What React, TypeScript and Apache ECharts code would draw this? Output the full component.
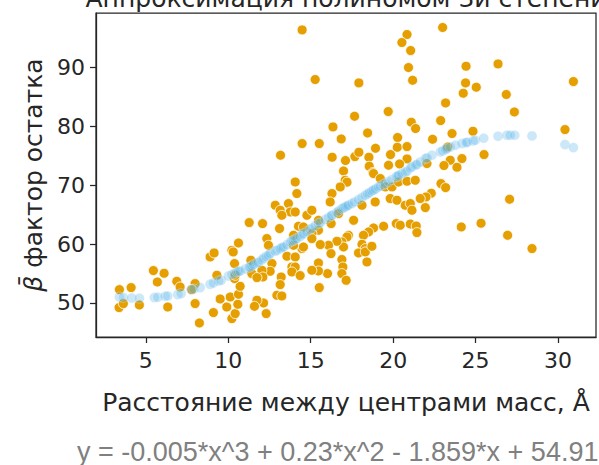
import React, { useEffect, useRef } from "react";
import * as echarts from "echarts";

const titleText = "Аппроксимация полиномом 3й степени";
const xAxisTitle = "Расстояние между центрами масс, Å";
const yAxisTitle = "{i|β̄} фактор остатка";
const equationText = "y = -0.005*x^3 + 0.23*x^2 - 1.859*x + 54.91";

const xTicks = [5, 10, 15, 20, 25, 30];
const yTicks = [50, 60, 70, 80, 90];

// observed points [distance, factor]
const observed: number[][] = [
  [14.48, 96.33], [15.27, 87.91], [17.92, 87.34], [20.84, 95.55], [20.53, 94.19], [21.06, 92.83],
  [20.93, 89.95], [21.18, 87.79], [19.7, 82.48], [17.66, 81.68], [21.1, 80.67], [21.36, 79.6],
  [16.35, 79.87], [18.45, 78.85], [16.85, 77.83], [20.27, 78.07], [14.48, 77.05], [15.52, 77.05],
  [13.17, 75.07], [18.93, 76.25], [20.25, 76.42], [20.84, 76.54], [16.3, 74.73], [17.11, 74.17],
  [17.68, 74.84], [17.92, 75.57], [18.53, 74.73], [19.84, 75.18], [20.84, 74.44], [18.55, 73.2],
  [19.72, 73.37], [20.39, 73.59], [16.99, 72.4], [18.77, 72.13], [22.05, 73.66], [22.39, 77.78],
  [23.0, 96.74], [24.42, 90.17], [26.36, 90.56], [30.93, 87.57], [24.39, 87.34], [25.04, 86.61],
  [24.25, 85.59], [26.86, 85.37], [23.18, 83.94], [27.35, 82.41], [22.88, 80.95], [30.42, 79.42],
  [23.57, 78.75], [24.84, 79.14], [25.51, 75.18], [23.3, 76.47], [23.46, 74.22], [24.17, 74.5],
  [23.87, 73.03], [23.08, 73.32],
  [22.9, 70.26], [23.18, 69.58], [22.31, 68.62], [21.99, 67.99], [21.95, 66.19], [27.06, 67.6],
  [24.13, 62.9], [25.33, 63.53], [26.94, 61.49], [28.42, 59.23],
  [17.09, 70.82], [17.2, 70.5], [16.79, 69.69], [16.29, 68.57], [16.18, 67.14], [14.06, 70.53],
  [14.16, 68.57], [12.85, 66.58], [13.65, 66.87], [13.15, 65.73], [13.76, 65.44], [14.06, 65.44],
  [13.25, 64.88], [14.77, 64.88], [15.07, 65.73], [12.08, 63.47], [13.11, 62.63], [14.26, 63.02],
  [14.56, 62.9], [15.47, 64.03], [15.47, 62.34], [15.07, 61.78], [15.07, 60.93], [16.24, 63.47],
  [16.69, 65.17], [17.6, 64.03], [18.11, 66.58], [18.81, 71.96], [19.22, 71.11], [19.52, 69.69],
  [19.93, 69.69], [18.91, 67.14], [19.82, 67.72], [20.23, 67.43], [20.33, 70.53], [20.84, 70.66],
  [21.34, 70.82], [20.73, 66.58], [21.04, 66.87], [21.14, 65.73], [21.64, 67.72], [20.19, 63.47],
  [20.43, 63.19], [21.04, 63.4], [21.4, 63.06], [21.44, 61.94], [19.42, 63.02], [18.81, 62.73],
  [18.51, 62.05], [18.2, 61.49], [18.11, 59.96], [18.31, 59.23], [17.9, 58.49], [18.31, 58.66],
  [18.71, 59.62], [18.41, 56.96], [17.29, 61.49], [17.2, 61.2], [16.89, 60.35], [16.99, 59.5],
  [16.59, 60.47], [16.08, 59.79], [16.23, 58.38], [16.89, 57.37], [16.95, 56.11], [16.89, 54.99],
  [17.15, 53.85], [16.02, 54.99], [15.47, 56.79], [15.47, 55.43], [15.07, 55.55], [15.52, 52.61],
  [15.58, 59.91], [14.47, 59.23], [14.56, 59.5], [13.96, 59.79], [13.56, 57.93], [14.06, 57.81],
  [13.86, 56.11], [14.06, 56.11], [13.86, 55.26], [14.36, 54.65], [12.65, 56.69], [12.54, 55.38],
  [12.04, 55.55], [12.1, 54.41], [13.21, 54.41], [13.15, 53.12], [12.95, 51.31], [13.25, 51.19],
  [12.14, 50.0], [12.3, 48.2], [12.34, 60.93], [12.44, 59.79], [13.96, 61.49],
  [3.4, 52.27], [4.11, 52.61], [3.38, 49.22], [3.64, 49.9], [4.61, 49.66], [5.46, 55.5],
  [6.11, 55.04], [5.7, 53.56], [6.88, 53.68], [7.08, 52.72], [6.33, 49.32], [7.99, 53.29],
  [7.79, 52.27], [7.99, 49.9], [8.25, 46.61], [9.1, 48.37], [9.51, 50.68], [9.91, 49.32],
  [10.12, 51.02], [10.22, 47.35], [10.42, 48.2], [10.58, 49.78], [10.62, 51.48], [10.72, 52.83],
  [10.38, 54.14], [10.42, 54.7], [9.31, 54.7], [8.9, 57.81], [9.14, 58.49], [10.22, 58.94],
  [10.3, 58.66], [10.62, 60.18], [10.38, 56.69], [11.27, 63.64], [11.37, 57.25], [11.43, 54.99],
  [11.74, 54.31], [11.74, 50.46], [11.59, 49.44],
];

// fitted points [distance, fitted factor]
const fitted: number[][] = [
  [3.4, 51.02], [3.64, 50.92], [4.15, 50.85], [4.61, 50.8], [5.52, 50.92], [5.73, 50.97],
  [6.17, 51.14], [6.33, 51.19], [6.94, 51.43], [7.14, 51.6], [7.75, 52.27], [7.91, 52.38],
  [8.3, 52.61], [8.9, 53.17], [9.1, 53.39], [9.4, 53.73], [9.57, 53.85], [10.01, 54.58],
  [10.22, 54.82], [10.38, 55.0], [10.52, 55.26], [10.62, 55.35], [10.72, 55.43], [11.03, 55.77],
  [11.27, 56.05], [11.33, 56.11], [11.43, 56.3], [11.53, 56.52], [11.74, 56.8], [11.83, 56.91],
  [12.04, 57.3], [12.14, 57.6], [12.3, 57.9], [12.44, 58.1], [12.54, 58.38], [12.85, 58.8],
  [12.95, 58.94], [13.15, 59.2], [13.25, 59.4], [13.35, 59.5], [13.56, 59.9], [13.76, 60.35],
  [13.86, 60.5], [13.96, 60.6], [14.06, 60.8], [14.16, 60.93], [14.36, 61.3], [14.48, 61.6],
  [14.56, 61.78], [14.77, 62.1], [14.97, 62.46], [15.07, 62.7], [15.27, 63.1], [15.47, 63.47],
  [15.58, 63.6], [15.88, 64.15], [16.08, 64.5], [16.24, 64.8], [16.29, 64.88], [16.59, 65.4],
  [16.69, 65.61], [16.89, 66.0], [16.99, 66.15], [17.09, 66.29], [17.2, 66.45], [17.29, 66.6],
  [17.5, 66.87], [17.66, 67.15], [17.9, 67.55], [18.11, 67.9], [18.31, 68.28], [18.45, 68.5],
  [18.55, 68.7], [18.71, 69.0], [18.81, 69.15], [18.93, 69.35], [19.11, 69.69], [19.22, 69.85],
  [19.42, 70.1], [19.52, 70.26], [19.72, 70.6], [19.93, 70.94], [20.19, 71.4], [20.27, 71.5],
  [20.33, 71.67], [20.53, 71.95], [20.73, 72.2], [20.84, 72.35], [21.04, 72.9], [21.14, 73.1],
  [21.36, 73.4], [21.44, 73.5], [21.64, 73.9], [21.95, 74.5], [22.05, 74.6], [22.35, 75.07],
  [22.86, 75.63], [23.0, 75.8], [23.18, 76.05], [23.26, 76.2], [23.46, 76.45], [23.77, 76.76],
  [24.17, 77.05], [24.42, 77.2], [24.48, 77.27], [24.84, 77.5], [24.98, 77.61], [25.49, 77.95],
  [26.36, 78.29], [26.9, 78.46], [27.1, 78.46], [27.37, 78.46], [28.42, 78.34], [30.42, 76.88],
  [30.93, 76.37],
];

const xMin = 1.98;
const xMax = 32.3;
const yMin = 44.23;
const yMax = 99.2;

export default function App() {
  const ref = useRef<HTMLDivElement>(null);
  useEffect(() => {
    if (!ref.current) return;
    const chart = echarts.init(ref.current, undefined, { renderer: "svg" });
    const ink = "#262626";
    chart.setOption({
      animation: false,
      backgroundColor: "#ffffff",
      grid: {
        left: 96,
        right: 3,
        top: 13,
        bottom: 128,
        show: true,
        borderColor: ink,
        borderWidth: 1.25,
        backgroundColor: "transparent",
      },
      graphic: [
        {
          type: "text",
          x: 346,
          y: 11,
          style: {
            text: titleText,
            fill: ink,
            font: "25px 'DejaVu Sans'",
            textAlign: "center",
            textVerticalAlign: "bottom",
          },
        },
        {
          type: "text",
          x: 77,
          y: 465,
          style: {
            text: equationText,
            fill: "#808080",
            font: "27px 'Liberation Sans'",
            textAlign: "left",
            textVerticalAlign: "bottom",
          },
        },
      ],
      xAxis: {
        type: "value",
        min: xMin,
        max: xMax,
        name: xAxisTitle,
        nameLocation: "middle",
        nameGap: 53,
        nameTextStyle: { fontFamily: "DejaVu Sans", fontSize: 25, color: ink },
        axisLine: { show: true, lineStyle: { color: ink, width: 1.25 } },
        axisTick: { show: true, length: 6, customValues: xTicks, lineStyle: { color: ink, width: 1.25 } },
        axisLabel: { customValues: xTicks, fontFamily: "DejaVu Sans", fontSize: 22, color: ink, margin: 12 },
        splitLine: { show: false },
      },
      yAxis: {
        type: "value",
        min: yMin,
        max: yMax,
        name: yAxisTitle,
        nameLocation: "middle",
        nameRotate: 90,
        nameGap: 50,
        nameTextStyle: {
          fontFamily: "DejaVu Sans",
          fontSize: 25,
          color: ink,
          rich: { i: { fontFamily: "DejaVu Sans", fontStyle: "italic", fontSize: 25, color: ink } },
        },
        axisLine: { show: true, lineStyle: { color: ink, width: 1.25 } },
        axisTick: { show: true, length: 6, customValues: yTicks, lineStyle: { color: ink, width: 1.25 } },
        axisLabel: { customValues: yTicks, fontFamily: "DejaVu Sans", fontSize: 22, color: ink, margin: 11 },
        splitLine: { show: false },
      },
      series: [
        {
          type: "scatter",
          data: observed,
          symbolSize: 10,
          itemStyle: { color: "#E69F00", borderColor: "#ffffff", borderWidth: 0.8, opacity: 1 },
          z: 2,
        },
        {
          type: "scatter",
          data: fitted,
          symbolSize: 10,
          itemStyle: {
            color: "rgba(86,180,233,0.3)",
            borderColor: "rgba(255,255,255,0.3)",
            borderWidth: 0.8,
            opacity: 1,
          },
          z: 3,
        },
      ],
    });
    return () => chart.dispose();
  }, []);
  return (
    <div
      ref={ref}
      style={{ position: "absolute", left: 0, top: 0, width: 599, height: 465 }}
    />
  );
}
